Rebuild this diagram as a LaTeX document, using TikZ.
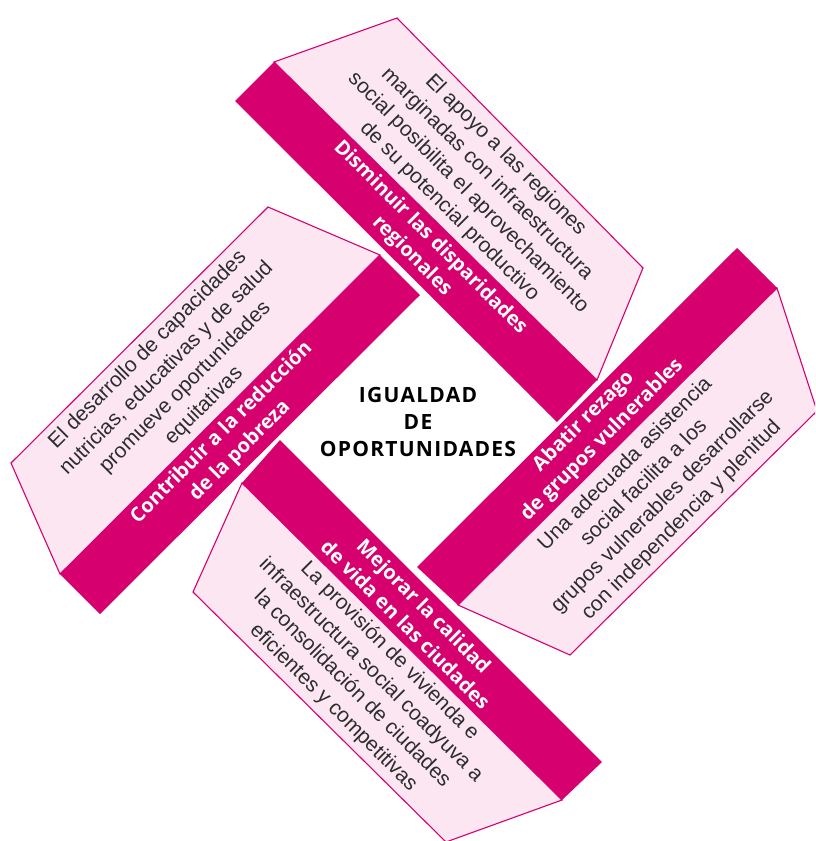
\documentclass[tikz,border=0pt]{standalone}
\usepackage{fontspec}
\setmainfont{Liberation Sans}
\newfontfamily\titlefont{Open Sans}
\newfontfamily\centrefont{Open Sans}[LetterSpace=6]
\usepackage{tikz}
\definecolor{rosa}{RGB}{214,0,111}
\definecolor{rosaclaro}{RGB}{252,230,242}
\definecolor{texto}{RGB}{45,45,45}
\tikzstyle{band}=[fill=rosa]
\tikzstyle{box}=[fill=rosaclaro,draw=rosa,line width=1.1pt]
\tikzstyle{body}=[text=texto,align=center,inner sep=0pt,font=\fontsize{21}{26.5}\selectfont]
\tikzstyle{title}=[text=white,align=center,inner sep=0pt,font=\titlefont\bfseries\fontsize{20}{26}\selectfont]
\tikzstyle{centre}=[align=center,inner sep=0pt,font=\centrefont\bfseries\fontsize{21}{27}\selectfont]

\begin{document}
\begin{tikzpicture}[x=1pt,y=-1pt]
    \useasboundingbox (0,0) rectangle (815,841);
    \clip (0,0) rectangle (815,841);
    % regiones (arriba)
    \draw[box] (274,62) -- (397,18) -- (643,268) -- (597,380) -- cycle;
    \fill[band] (235,101) -- (274,62) -- (597,380) -- (557,422) -- cycle;
    % grupos vulnerables (derecha)
    \draw[box] (777,288) -- (817,411) -- (570,655) -- (458,605) -- cycle;
    \fill[band] (737,248) -- (777,288) -- (458,605) -- (417,567) -- cycle;
    % ciudades (abajo)
    \draw[box] (562,800) -- (446,842) -- (193,592) -- (242,483) -- cycle;
    \fill[band] (602,762) -- (562,800) -- (242,483) -- (280,440) -- cycle;
    % pobreza (izquierda)
    \draw[box] (60,574) -- (11,463) -- (268,207) -- (380,255) -- cycle;
    \fill[band] (100,614) -- (60,574) -- (380,255) -- (420,295) -- cycle;

    \node[body,rotate=-45] (apoyo) at (477.5,183.5)
      {El apoyo a las regiones\\marginadas con infraestructura\\social posibilita el aprovechamiento\\de su potencial productivo};
    \node[title,rotate=-45] (disminuir) at (421,247) {Disminuir las disparidades\\regionales};

    \node[body,rotate=45] (asistencia) at (653.5,492.5)
      {Una adecuada asistencia\\social facilita a los\\grupos vulnerables desarrollarse\\con independencia y plenitud};
    \node[title,rotate=45] (abatir) at (593,431) {Abatir rezago\\de grupos vulnerables};

    \node[body,rotate=-45] (vivienda) at (361.5,679.5)
      {La provisión de vivienda e\\infraestructura social coadyuva a\\la consolidación de ciudades\\eficientes y competitivas};
    \node[title,rotate=-45] (mejorar) at (415,615) {Mejorar la calidad\\de vida en las ciudades};

    \node[body,rotate=45] (capacidades) at (176,378)
      {El desarrollo de capacidades\\nutricias, educativas y de salud\\promueve oportunidades\\equitativas};
    \node[title,rotate=45] (contribuir) at (231,442) {Contribuir a la reducción\\de la pobreza};

    \node[centre] (igualdad) at (418,422) {IGUALDAD\\DE\\OPORTUNIDADES};
\end{tikzpicture}
\end{document}
